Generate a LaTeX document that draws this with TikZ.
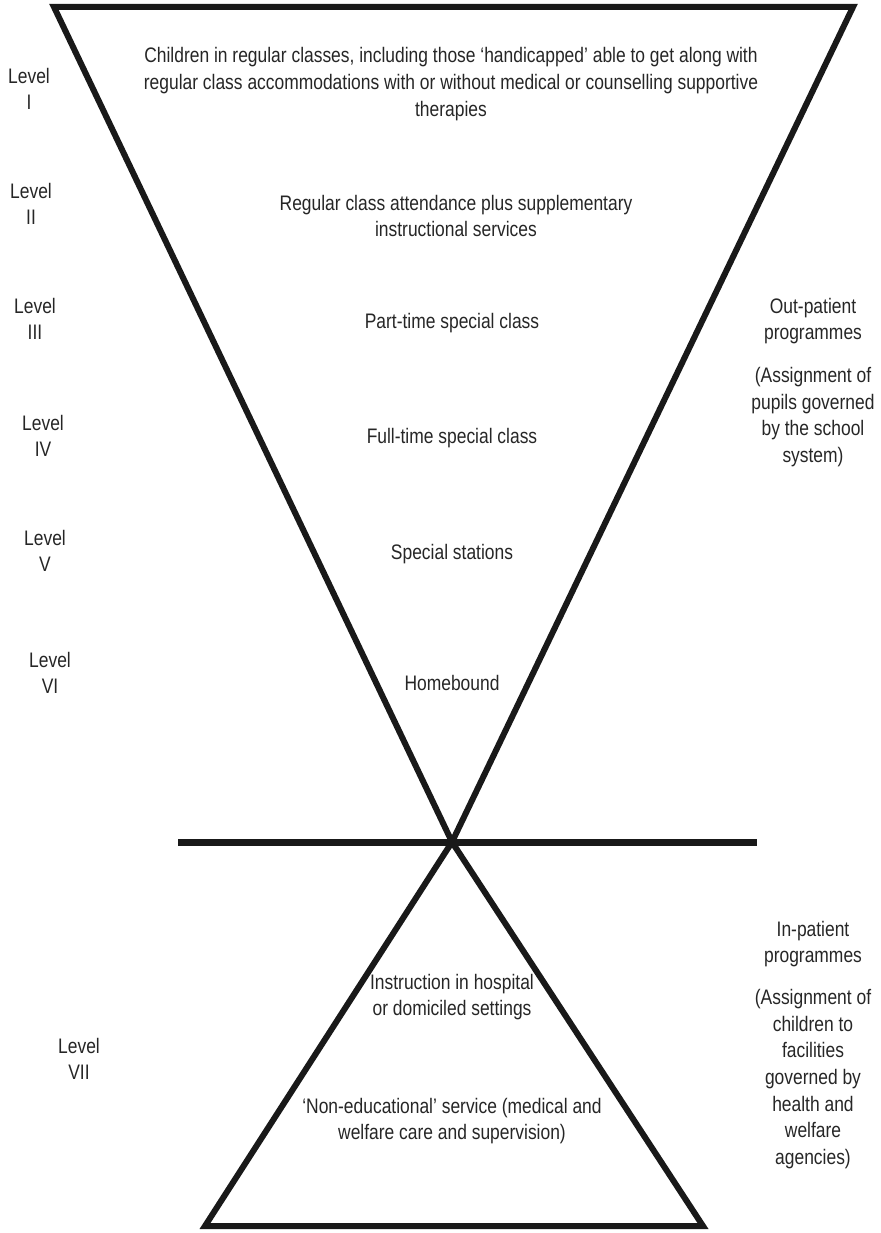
\documentclass[tikz,border=0pt]{standalone}
\usepackage{fontspec}
\setmainfont{Liberation Sans}[FakeStretch=0.83]
\usepackage{tikz}
\usetikzlibrary{positioning}

\begin{document}
\begin{tikzpicture}[
  x=1pt, y=-1pt,
  txt/.style={align=center, inner sep=0pt, text=black!85,
    font=\fontsize{21}{26.6}\selectfont},
  frame/.style={draw=black!90, line width=6pt, line join=miter},
  bar/.style={draw=black!90, line width=7pt}
]
  \useasboundingbox (0,0) rectangle (880,1233);

  % funnel corners
  \coordinate (tl) at (54,7);
  \coordinate (tr) at (853,7);
  \coordinate (apex) at (452,842);
  \coordinate (bl) at (205,1226);
  \coordinate (br) at (703,1226);
  \coordinate (hl) at (178,842);
  \coordinate (hr) at (757,842);

  \draw[frame] (tl) -- (tr) -- (apex) -- cycle;
  \draw[frame] (apex) -- (br) -- (bl) -- cycle;
  \draw[bar] (hl) -- (hr);

  % levels
  \node[txt] (lvI)   at (29,89)    {Level\\I};
  \node[txt] (lvII)  at (31,204)   {Level\\II};
  \node[txt] (lvIII) at (35,319)   {Level\\III};
  \node[txt] (lvIV)  at (43,436)   {Level\\IV};
  \node[txt] (lvV)   at (45,551)   {Level\\V};
  \node[txt] (lvVI)  at (50,673)   {Level\\VI};
  \node[txt] (lvVII) at (79,1059)  {Level\\VII};

  % services
  \node[txt] (regular) at (451,84) {Children in regular classes, including those `handicapped' able to get along with\\
    regular class accommodations with or without medical or counselling supportive\\therapies};
  \node[txt] (suppl) at (456,216) {Regular class attendance plus supplementary\\instructional services};
  \node[txt] (parttime) at (452,323) {Part-time special class};
  \node[txt] (fulltime) at (452,438) {Full-time special class};
  \node[txt] (stations) at (452,554) {Special stations};
  \node[txt] (homebound) at (452,683) {Homebound};
  \node[txt] (hospital) at (452,997) {Instruction in hospital\\or domiciled settings};
  \node[txt] (noneduc) at (452,1121) {`Non-educational' service (medical and\\welfare care and supervision)};

  % programmes
  \node[txt] (outpat) at (813,321) {Out-patient\\programmes};
  \node[txt] (outassign) at (813,417) {(Assignment of\\pupils governed\\by the school\\system)};
  \node[txt] (inpat) at (813,944) {In-patient\\programmes};
  \node[txt] (inassign) at (813,1079) {(Assignment of\\children to\\facilities\\governed by\\health and\\welfare\\agencies)};
\end{tikzpicture}
\end{document}
